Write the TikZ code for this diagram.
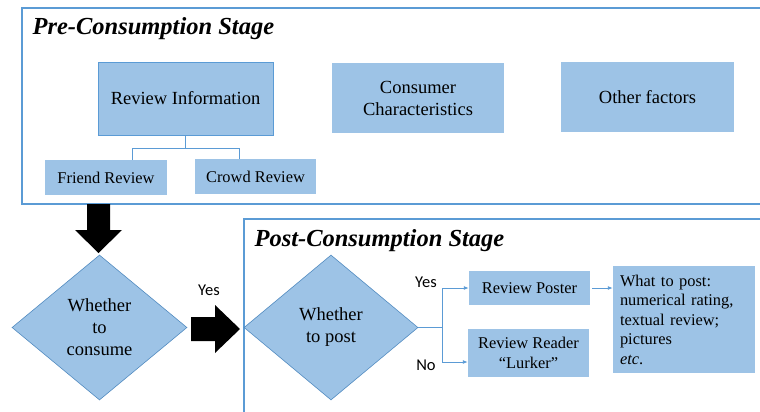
\documentclass[tikz,border=0pt]{standalone}
\usepackage{fontspec}
\setmainfont{LiberationSerif}[Extension=.ttf,UprightFont=*-Regular,BoldFont=*-Bold,ItalicFont=*-Italic,BoldItalicFont=*-BoldItalic]
\newfontfamily\yesnofont{Carlito}
\usetikzlibrary{shapes.geometric,arrows.meta}
\definecolor{boxfill}{HTML}{9DC3E6}
\definecolor{boxline}{HTML}{5B9BD5}
\newcommand{\bigtext}{\rmfamily\fontsize{18.5}{22}\selectfont}
\newcommand{\smalltext}{\rmfamily\fontsize{16.4}{20}\selectfont}

\begin{document}
\begin{tikzpicture}[x=1pt,y=-1pt,
		box/.style={fill=boxfill,draw=none,align=center,inner sep=0pt},
		decision/.style={diamond,fill=boxfill,draw=boxline!90!black,line width=0.6pt,
			align=center,inner sep=0pt,font=\bigtext},
		frame/.style={draw=boxline,line width=1.1pt},
		link/.style={draw=boxline,line width=0.9pt},
		arrow/.style={link,-{Latex[length=5pt,width=4pt]}},
		answer/.style={font=\yesnofont\fontsize{16.5}{19}\selectfont},
		stage/.style={anchor=base west,font=\rmfamily\fontsize{24.5}{28}\selectfont\bfseries\itshape}]
		\useasboundingbox (0,0) rectangle (760,412);
		\clip (0,0) rectangle (760,412);
		\begin{scope}
			% pre-consumption stage
			\draw[frame] (22,8) rectangle (790,204);
			\node[stage] (pretitle) at (29,35) {Pre-Consumption Stage};
			\node[box,draw=boxline,line width=0.9pt,minimum width=175pt,minimum height=73pt,font=\bigtext] (revinfo) at (185.5,98.5) {Review Information};
			\node[box,minimum width=172pt,minimum height=70pt,font=\bigtext] (consumer) at (418,98) {Consumer\\Characteristics};
			\node[box,minimum width=173pt,minimum height=70pt,font=\bigtext] (other) at (647.5,97) {Other factors};
			\node[box,minimum width=122pt,minimum height=35pt,font=\smalltext] (friend) at (106,177.5) {Friend Review};
			\node[box,minimum width=121pt,minimum height=35pt,font=\smalltext] (crowd) at (255.5,176.5) {Crowd Review};
			\draw[link] (revinfo.south) -- ++(0,13) coordinate (split);
			\draw[link] ([xshift=26pt]friend.north) |- (split) -| ([xshift=-16.5pt]crowd.north);
		\end{scope}
		\begin{scope}
			% consume decision
			\fill (87,204) -- (110,204) -- (110,230) -- (122,230) -- (98.5,253) -- (75,230) -- (87,230) -- cycle;
			\node[decision,minimum width=175pt,minimum height=145pt] (consume) at (99.5,327.5) {Whether\\to\\consume};
			\node[answer] (yes1) at (209,290) {Yes};
			\fill (191,317) -- (215,317) -- (215,305) -- (240,329) -- (215,353) -- (215,341) -- (191,341) -- cycle;
		\end{scope}
		\begin{scope}
			% post-consumption stage
			\draw[frame] (244,219) rectangle (790,440);
			\node[stage] (posttitle) at (251,246) {Post-Consumption Stage};
			\node[decision,minimum width=174pt,minimum height=145pt] (postq) at (331,327.5) {Whether\\to post};
			\node[box,minimum width=121pt,minimum height=34pt,font=\smalltext] (poster) at (529.5,288) {Review Poster};
			\node[box,minimum width=121pt,minimum height=48pt,font=\smalltext] (reader) at (528.5,353) {Review Reader\\``Lurker''};
			\node[box,minimum width=142pt,minimum height=107pt,text width=128pt,align=left,
				font=\rmfamily\fontsize{16.4}{19.5}\selectfont] (what) at (684,319.5)
				{What to post:\\numerical rating,\\textual review;\\pictures\\\textit{etc}.};
			\draw[link] (postq.east) -- ++(24,0) coordinate (fork);
			\draw[arrow] (fork) |- (poster.west);
			\draw[arrow] (fork) |- ([yshift=-9pt]reader.west);
			\draw[arrow] ([xshift=2pt]poster.east) -- (what.west |- poster.east);
			\node[answer] (yes2) at (426,282) {Yes};
			\node[answer] (no2) at (426,365) {No};
		\end{scope}
\end{tikzpicture}
\end{document}
